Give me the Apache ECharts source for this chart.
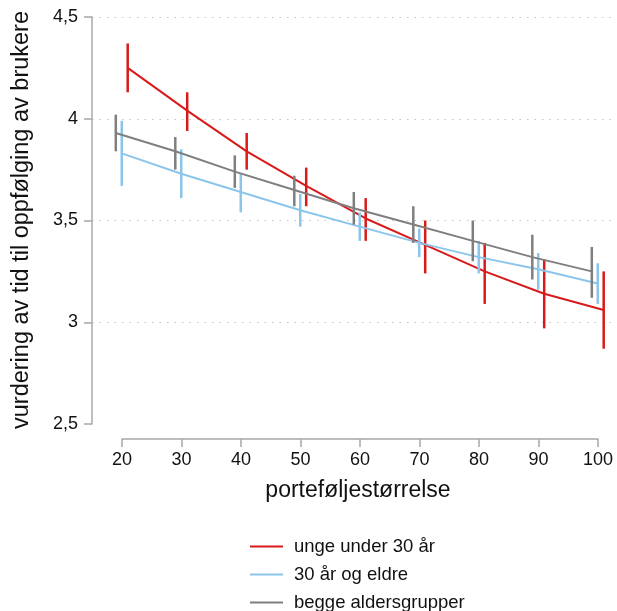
<!DOCTYPE html>
<html>
<head>
<meta charset="utf-8">
<script src="https://cdn.jsdelivr.net/npm/echarts@6/dist/echarts.min.js"></script>
<style>html,body{margin:0;padding:0;background:#fff}#c{width:617px;height:611px}</style>
</head>
<body>
<div id="c"></div>
<script>
const xs = [20, 30, 40, 50, 60, 70, 80, 90, 100];
const xTicks = ['20', '30', '40', '50', '60', '70', '80', '90', '100'];
const yTicks = ['2,5', '3', '3,5', '4', '4,5'];
const seriesNames = ['unge under 30 år', '30 år og eldre', 'begge aldersgrupper'];

const redMean = [4.25, 4.04, 3.84, 3.67, 3.51, 3.38, 3.25, 3.14, 3.06];
const redLow  = [4.13, 3.94, 3.75, 3.57, 3.40, 3.24, 3.09, 2.97, 2.87];
const redHigh = [4.37, 4.13, 3.93, 3.76, 3.61, 3.50, 3.39, 3.31, 3.25];

const blueMean = [3.83, 3.73, 3.64, 3.55, 3.47, 3.39, 3.32, 3.26, 3.19];
const blueLow  = [3.67, 3.61, 3.54, 3.47, 3.40, 3.32, 3.24, 3.16, 3.09];
const blueHigh = [3.99, 3.85, 3.73, 3.63, 3.54, 3.46, 3.40, 3.34, 3.29];

const greyMean = [3.93, 3.84, 3.74, 3.65, 3.56, 3.48, 3.40, 3.32, 3.25];
const greyLow  = [3.84, 3.75, 3.66, 3.57, 3.48, 3.39, 3.30, 3.21, 3.12];
const greyHigh = [4.02, 3.91, 3.82, 3.72, 3.64, 3.57, 3.50, 3.43, 3.37];

const FONT = 'Liberation Sans, Arial, Helvetica, sans-serif';
const colors = ['#d91a1a', '#8cc5ec', '#7f7f7f'];
const offsets = [1, 0, -1];
const groups = [
  [redMean, redLow, redHigh],
  [blueMean, blueLow, blueHigh],
  [greyMean, greyLow, greyHigh]
];

const series = [];
groups.forEach((g, i) => {
  series.push({
    name: seriesNames[i], type: 'line', xAxisIndex: 0, yAxisIndex: 0,
    data: xs.map((x, k) => [x + offsets[i], g[0][k]]),
    symbol: 'none', smooth: false, z: 3 + i,
    lineStyle: { color: colors[i], width: 2 }, itemStyle: { color: colors[i] },
    silent: true
  });
  series.push({
    name: seriesNames[i] + ' ci', type: 'custom', xAxisIndex: 0, yAxisIndex: 0,
    data: xs.map((x, k) => [x + offsets[i], g[1][k], g[2][k]]),
    encode: { x: 0, y: [1, 2] }, z: 3 + i, silent: true,
    renderItem: (params, api) => {
      const p1 = api.coord([api.value(0), api.value(1)]);
      const p2 = api.coord([api.value(0), api.value(2)]);
      return { type: 'line', shape: { x1: p1[0], y1: p1[1], x2: p2[0], y2: p2[1] },
        style: { stroke: colors[i], lineWidth: 2.5 } };
    }
  });
});

const chart = echarts.init(document.getElementById('c'), null, { renderer: 'canvas' });
chart.setOption({
  animation: false,
  backgroundColor: '#fff',
  textStyle: { fontFamily: FONT },
  grid: [
    { left: 92, right: 2, top: 17, height: 407 },
    { left: 122, width: 476, top: 438, height: 1 }
  ],
  xAxis: [
    { gridIndex: 0, type: 'value', min: 15, max: 102.9, show: false },
    { gridIndex: 1, type: 'value', min: 20, max: 100, interval: 10,
      axisLine: { show: true, lineStyle: { color: '#a8a8a8', width: 1.5 } },
      axisTick: { show: true, length: 8, lineStyle: { color: '#a8a8a8', width: 1.5 } },
      axisLabel: { fontSize: 18, color: '#111', margin: 12, fontFamily: FONT,
        formatter: v => xTicks[xs.indexOf(v)] },
      splitLine: { show: false } }
  ],
  yAxis: [
    { gridIndex: 0, type: 'value', min: 2.5, max: 4.5, interval: 0.5,
      axisLine: { show: true, lineStyle: { color: '#a8a8a8', width: 1.5 } },
      axisTick: { show: true, length: 8, lineStyle: { color: '#a8a8a8', width: 1.5 } },
      axisLabel: { fontSize: 18, color: '#111', margin: 14, fontFamily: FONT,
        formatter: v => yTicks[Math.round((v - 2.5) / 0.5)] },
      splitLine: { show: true, lineStyle: { type: [1.5, 6], width: 1.2,
        color: ['rgba(0,0,0,0)', '#c4c4c4', '#c4c4c4', '#c4c4c4', '#c4c4c4'] } } },
    { gridIndex: 1, type: 'value', show: false }
  ],
  legend: {
    orient: 'vertical', left: 245, top: 532, height: 100, width: 360,
    data: seriesNames.map(n => ({ name: n, icon: 'rect' })),
    itemWidth: 33, itemHeight: 2, itemGap: 9,
    textStyle: { fontSize: 18.5, color: '#111', fontFamily: FONT, lineHeight: 18, padding: [0, 0, 0, 6] },
    selectedMode: false
  },
  graphic: [
    { type: 'text', x: 358, y: 491,
      style: { text: 'porteføljestørrelse', fill: '#111', font: '23px ' + FONT,
        textAlign: 'center', textVerticalAlign: 'middle' } },
    { type: 'text', x: 22, y: 220, rotation: Math.PI / 2,
      style: { text: 'vurdering av tid til oppfølging av brukere', fill: '#111', font: '23.5px ' + FONT,
        textAlign: 'center', textVerticalAlign: 'middle' } }
  ],
  series: series
});
</script>
</body>
</html>
